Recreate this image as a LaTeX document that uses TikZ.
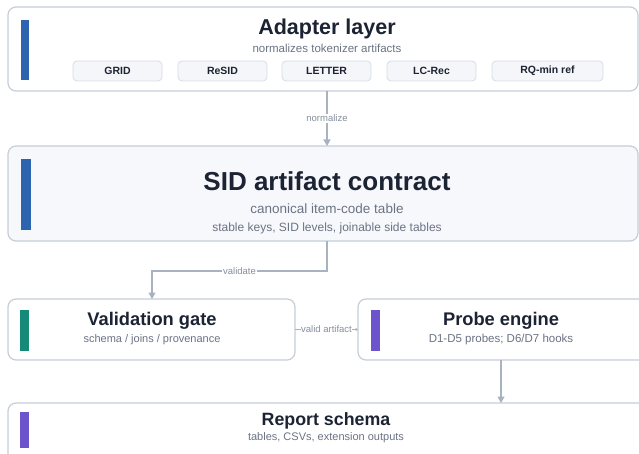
\documentclass[tikz,border=0pt]{standalone}
\usepackage{fontspec}
\setmainfont{Liberation Sans}
\usetikzlibrary{arrows.meta}
\definecolor{bordc}{HTML}{C6CDD8}
\definecolor{connc}{HTML}{A9B2C1}
\definecolor{titc}{HTML}{1C2333}
\definecolor{subc}{HTML}{6B7383}
\definecolor{lblc}{HTML}{858E9E}
\definecolor{chipfill}{HTML}{F4F6F9}
\definecolor{chipbord}{HTML}{D7DCE4}
\definecolor{sidfill}{HTML}{F6F8FC}
\definecolor{barblue}{HTML}{2C64B0}
\definecolor{bargreen}{HTML}{168A78}
\definecolor{barpurple}{HTML}{6C54CC}
\tikzset{
  panel/.style={draw=bordc, line width=1.2pt, rounded corners=8pt, fill=white, inner sep=0pt, outer sep=0pt, anchor=north west},
  chipbox/.style={draw=chipbord, line width=0.8pt, rounded corners=4pt, fill=chipfill, inner sep=0pt, minimum height=20pt, text=titc, font=\fontsize{10.5}{12}\selectfont\bfseries},
  bigtitle/.style={text=titc, inner sep=0pt, font=\bfseries},
  subtxt/.style={text=subc, inner sep=0pt},
  conn/.style={draw=connc, line width=1.2pt, -{Triangle[width=7pt,length=6.5pt]}},
  lbl/.style={fill=white, text=lblc, inner sep=1pt, font=\fontsize{9.5}{11}\selectfont},
  barst/.style={inner sep=0pt, outer sep=0pt, anchor=north west}
}
\begin{document}
\begin{tikzpicture}[x=1pt,y=-1pt]
\useasboundingbox (0,0) rectangle (639,454);
\clip (0,0) rectangle (639,454);
% panels
\node[panel, minimum width=630pt, minimum height=84pt] (adapter) at (8,7) {};
\node[panel, fill=sidfill, minimum width=630pt, minimum height=95pt] (sid) at (8,146) {};
\node[panel, minimum width=287pt, minimum height=61pt] (vgate) at (8,299) {};
\node[panel, minimum width=300pt, minimum height=61pt] (probe) at (358,299) {};
\node[panel, minimum width=650pt, minimum height=80pt] (report) at (8,403) {};
% bars
\node[barst, fill=barblue, minimum width=8pt, minimum height=60pt] (abar) at (21,20) {};
\node[barst, fill=barblue, minimum width=10pt, minimum height=71pt] (sbar) at (21,159) {};
\node[barst, fill=bargreen, minimum width=9pt, minimum height=41pt] (vbar) at (20,310) {};
\node[barst, fill=barpurple, minimum width=9pt, minimum height=41pt] (pbar) at (371,310) {};
\node[barst, fill=barpurple, minimum width=9pt, minimum height=36pt] (rbar) at (20,412) {};
% adapter texts
\node[bigtitle, font=\fontsize{21.5}{24}\selectfont\bfseries] (atitle) at (327,29) {Adapter layer};
\node[subtxt, font=\fontsize{11.5}{13}\selectfont] (asub) at (327,48) {normalizes tokenizer artifacts};
\node[chipbox, minimum width=89pt] (c1) at (117.5,71) {GRID};
\node[chipbox, minimum width=89pt] (c2) at (222.5,71) {ReSID};
\node[chipbox, minimum width=89pt] (c3) at (326.5,71) {LETTER};
\node[chipbox, minimum width=89pt] (c4) at (431.5,71) {LC-Rec};
\node[chipbox, minimum width=111pt] (c5) at (547.5,71) {RQ-min ref};
% SID texts
\node[bigtitle, font=\fontsize{26}{30}\selectfont\bfseries] (stitle) at (327,181) {SID artifact contract};
\node[subtxt, font=\fontsize{13.5}{16}\selectfont] (ssub1) at (327,209) {canonical item-code table};
\node[subtxt, font=\fontsize{12}{14}\selectfont] (ssub2) at (327,228) {stable keys, SID levels, joinable side tables};
% validation texts
\node[bigtitle, font=\fontsize{18.3}{21}\selectfont\bfseries] (vtitle) at (152,321) {Validation gate};
\node[subtxt, font=\fontsize{11}{13}\selectfont] (vsub) at (152,340) {schema / joins / provenance};
% probe texts
\node[bigtitle, font=\fontsize{18.3}{21}\selectfont\bfseries] (ptitle) at (501,321) {Probe engine};
\node[subtxt, font=\fontsize{11.5}{13}\selectfont] (psub) at (501,340) {D1-D5 probes; D6/D7 hooks};
% report texts
\node[bigtitle, font=\fontsize{17.8}{21}\selectfont\bfseries] (rtitle) at (326,421) {Report schema};
\node[subtxt, font=\fontsize{11}{13}\selectfont] (rsub) at (326,438) {tables, CSVs, extension outputs};
% connectors
\draw[conn] (adapter.south -| atitle) -- node[lbl]{normalize} (sid.north -| atitle);
\coordinate (vbend) at (152,271);
\draw[conn] (sid.south -| stitle) |- node[lbl, pos=0.75]{validate} (vbend) -- (vgate.north -| vbend);
\draw[draw=connc, line width=1pt, -{Triangle[width=3pt,length=2.5pt]}] (vgate.east) -- node[lbl, inner sep=0.5pt]{valid artifact} (probe.west);
\draw[conn] (probe.south -| ptitle) -- (report.north -| ptitle);
\end{tikzpicture}
\end{document}
